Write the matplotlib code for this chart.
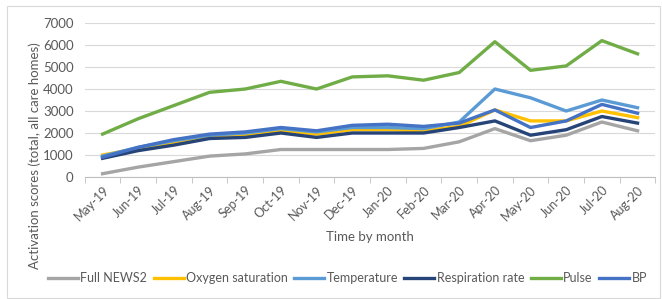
import matplotlib.pyplot as plt
import numpy as np

months = ['May-19', 'Jun-19', 'Jul-19', 'Aug-19', 'Sep-19', 'Oct-19', 'Nov-19', 'Dec-19',
          'Jan-20', 'Feb-20', 'Mar-20', 'Apr-20', 'May-20', 'Jun-20', 'Jul-20', 'Aug-20']

full_news2 = [150, 450, 700, 950, 1050, 1250, 1250, 1250, 1250, 1300, 1600, 2200, 1650, 1900, 2500, 2100]
oxygen = [1000, 1300, 1550, 1800, 1900, 2100, 1950, 2150, 2150, 2100, 2300, 3050, 2550, 2550, 3000, 2700]
temperature = [950, 1350, 1650, 1900, 2000, 2200, 2050, 2250, 2250, 2200, 2500, 4000, 3600, 3000, 3500, 3150]
respiration = [850, 1200, 1450, 1750, 1800, 2000, 1800, 2000, 2000, 2000, 2250, 2550, 1900, 2150, 2750, 2450]
pulse = [1950, 2650, 3250, 3850, 4000, 4350, 4000, 4550, 4600, 4400, 4750, 6150, 4850, 5050, 6200, 5600]
bp = [900, 1350, 1700, 1950, 2050, 2250, 2100, 2350, 2400, 2300, 2450, 3050, 2250, 2550, 3300, 2900]

series = [
    ('Full NEWS2', full_news2, '#A5A5A5'),
    ('Oxygen saturation', oxygen, '#FFC000'),
    ('Temperature', temperature, '#5B9BD5'),
    ('Respiration rate', respiration, '#264478'),
    ('Pulse', pulse, '#70AD47'),
    ('BP', bp, '#4472C4'),
]

plt.rcParams['font.family'] = ['Lato', 'DejaVu Sans']
txt = '#595959'

fig = plt.figure(figsize=(6.62, 2.99), dpi=100)
ax = fig.add_axes([0.128, 0.408, 0.862, 0.515])

x = np.arange(len(months))
for name, vals, col in series:
    ax.plot(x, vals, color=col, lw=2.4, label=name)

ax.set_xlim(-0.5, len(months) - 0.5)
ax.set_ylim(0, 7000)
ax.set_yticks(range(0, 7001, 1000))
ax.grid(axis='y', color='#D9D9D9', lw=0.8)
ax.set_axisbelow(True)
for s in ['top', 'right', 'left']:
    ax.spines[s].set_visible(False)
ax.spines['bottom'].set_color('#BFBFBF')
ax.tick_params(axis='y', length=0, labelsize=9.5, colors=txt, pad=8)
ax.set_xticks(x)
ax.set_xticklabels(months, rotation=45, ha='right', rotation_mode='anchor')
ax.tick_params(axis='x', which='major', length=0, labelsize=9, colors=txt, pad=5)
ax.set_xticks(np.arange(-0.5, len(months), 1), minor=True)
ax.tick_params(axis='x', which='minor', length=4, color='#BFBFBF')

ax.set_xlabel('Time by month', fontsize=9.5, color=txt, labelpad=6)
ax.set_ylabel('Activation scores (total, all care homes)', fontsize=9.5, color=txt)
ax.yaxis.set_label_coords(-0.076, 0.14)

fig.legend(loc='center', bbox_to_anchor=(0.525, 0.07), ncol=6, frameon=False,
           fontsize=9, labelcolor=txt, handlelength=2.4, handletextpad=0.2, columnspacing=0.5)

fig.patches.append(plt.Rectangle((7 / 662, 0.003), 1 - 9 / 662, 1 - 7 / 299, transform=fig.transFigure,
                                 fill=False, edgecolor='#D9D9D9', lw=0.8))

fig.savefig('out.png', dpi=100)
